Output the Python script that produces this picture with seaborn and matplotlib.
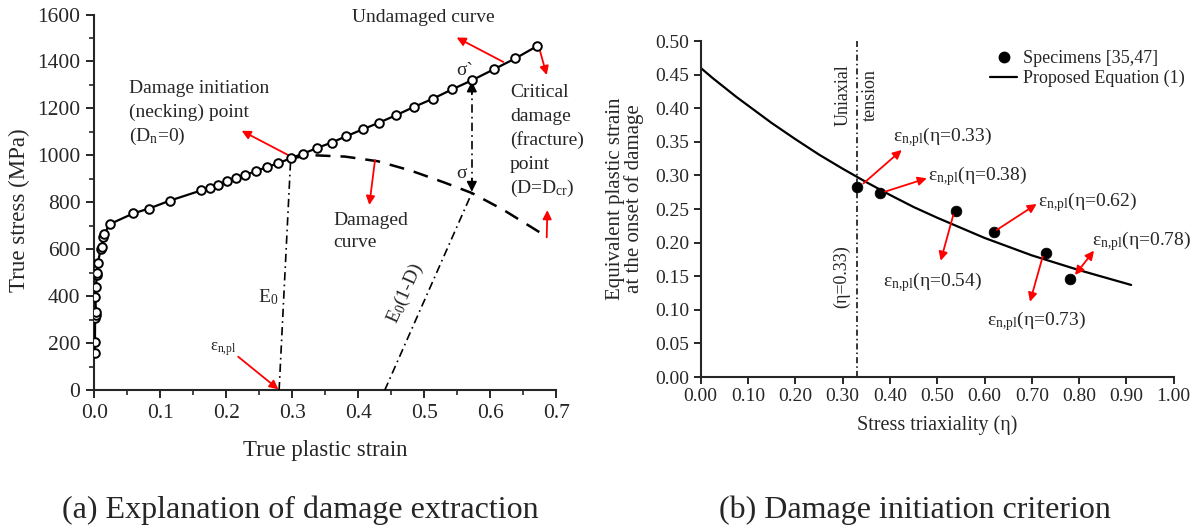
import matplotlib
matplotlib.use("Agg")
import matplotlib.pyplot as plt
from matplotlib.ticker import MultipleLocator, FormatStrFormatter
from matplotlib.lines import Line2D
import seaborn as sns

# ---------------- panel (a): true stress vs. true plastic strain ----------------
undamaged_strain = [0.0010, 0.0010, 0.0012, 0.0020, 0.0026, 0.0015, 0.0026, 0.0036, 0.0044,
                    0.0051, 0.0097, 0.0110, 0.0136, 0.0147, 0.0238, 0.059, 0.083, 0.115,
                    0.162, 0.175, 0.187, 0.2006, 0.214, 0.229, 0.245, 0.261, 0.279, 0.2976,
                    0.3167, 0.338, 0.3597, 0.382, 0.4067, 0.431, 0.457, 0.4849, 0.5127,
                    0.542, 0.5723, 0.6056, 0.638, 0.6712]
undamaged_stress = [160, 207, 306, 322, 334, 396, 438, 491, 500,
                    540, 600, 610, 651, 665, 708, 753, 774, 808,
                    851, 862, 876, 889, 902, 917, 933, 950, 967, 988,
                    1008, 1032, 1055, 1082, 1111, 1139, 1171, 1207, 1241,
                    1281, 1320, 1367, 1413, 1466]

damaged_strain = [0.2976, 0.33, 0.38, 0.43, 0.48, 0.53, 0.572, 0.62, 0.685]
damaged_stress = [988, 1001, 995, 975, 935, 885, 840, 768, 655]

necking_strain, necking_stress = 0.2976, 988      # damage initiation point
eps_n_pl = 0.280                                  # plastic strain at necking
unload_strain, unload_stress = 0.572, 840         # point on the damaged curve
reload_origin = 0.440                             # intercept of the E0(1-D) line
sigma_undamaged = 1320                            # sigma' at the same strain

# ---------------- panel (b): damage initiation criterion ----------------
spec_eta = [0.33, 0.38, 0.54, 0.62, 0.73, 0.78]
spec_eps = [0.282, 0.274, 0.247, 0.216, 0.185, 0.146]
spec_labels = ["0.33", "0.38", "0.54", "0.62", "0.73", "0.78"]

eq_eta = [0.00, 0.025, 0.05, 0.075, 0.10, 0.15, 0.20, 0.25, 0.30, 0.35, 0.40, 0.45,
          0.50, 0.55, 0.60, 0.65, 0.70, 0.75, 0.80, 0.85, 0.91]
eq_eps = [0.460, 0.445, 0.431, 0.417, 0.404, 0.378, 0.354, 0.331, 0.310, 0.290, 0.271, 0.253,
          0.237, 0.222, 0.207, 0.194, 0.181, 0.170, 0.159, 0.149, 0.137]

uniaxial_eta = 0.33

sns.set_style("ticks")
plt.rcParams["font.family"] = ["Liberation Serif", "DejaVu Serif"]
plt.rcParams["mathtext.default"] = "regular"
plt.rcParams["axes.linewidth"] = 1.5

W, H = 1199, 528
fig = plt.figure(figsize=(W / 100, H / 100), dpi=100)
ax1 = fig.add_axes([94.3 / W, 1 - 390.3 / H, 462.0 / W, 375.8 / H])
ax2 = fig.add_axes([700.7 / W, 1 - 377.0 / H, 473.0 / W, 336.0 / H])

RED = "#ff0000"


def red_arrow(ax, tail, tip, both=False):
    ax.annotate("", xy=tip, xytext=tail, annotation_clip=False,
                arrowprops=dict(arrowstyle="<|-|>" if both else "-|>", color=RED,
                                lw=1.3, mutation_scale=13, shrinkA=0, shrinkB=0))


# ---- panel (a) ----
sns.lineplot(x=damaged_strain, y=damaged_stress, ax=ax1, color="black", lw=1.8,
             dashes=False, estimator=None, sort=False, zorder=2)
ax1.lines[-1].set_dashes((6, 4))
sns.lineplot(x=undamaged_strain, y=undamaged_stress, ax=ax1, color="black", lw=1.6,
             estimator=None, sort=False, marker="o", markersize=6.2,
             markerfacecolor="white", markeredgecolor="black", markeredgewidth=1.4,
             zorder=4)

dashdot = (0, (5, 2.5, 1, 2.5))
ax1.plot([eps_n_pl, necking_strain], [0, necking_stress], color="black", lw=1.2,
         linestyle=dashdot, zorder=3)
ax1.plot([reload_origin, unload_strain], [0, unload_stress], color="black", lw=1.2,
         linestyle=dashdot, zorder=3)
ax1.plot([unload_strain, unload_strain], [unload_stress + 30, sigma_undamaged - 30],
         color="black", lw=1.2, linestyle=dashdot, zorder=3)
for tail, tip in [((unload_strain, sigma_undamaged - 60), (unload_strain, sigma_undamaged - 5)),
                  ((unload_strain, unload_stress + 60), (unload_strain, unload_stress + 5))]:
    ax1.annotate("", xy=tip, xytext=tail,
                 arrowprops=dict(arrowstyle="-|>", color="black", lw=1.2,
                                 mutation_scale=15, shrinkA=0, shrinkB=0))

ax1.set_xlim(0, 0.7)
ax1.set_ylim(0, 1600)
ax1.xaxis.set_major_locator(MultipleLocator(0.1))
ax1.xaxis.set_minor_locator(MultipleLocator(0.05))
ax1.xaxis.set_major_formatter(FormatStrFormatter("%.1f"))
ax1.yaxis.set_major_locator(MultipleLocator(200))
ax1.yaxis.set_minor_locator(MultipleLocator(100))
ax1.tick_params(which="major", direction="out", length=6, width=1.4, labelsize=15.5, pad=4)
ax1.tick_params(which="minor", direction="out", length=3.5, width=1.2)
sns.despine(ax=ax1)
ax1.set_xlabel("True plastic strain", fontsize=16.5)
ax1.set_ylabel("True stress (MPa)", fontsize=16.5)
ax1.xaxis.label.set_va("center")
ax1.yaxis.label.set_va("center")
ax1.xaxis.set_label_coords(0.5, -0.159)
ax1.yaxis.set_label_coords(-0.161, 0.48)

fs = 14
for s, y in [("Damage initiation", 1264), ("(necking) point", 1164), ("(D$_{n}$=0)", 1062)]:
    ax1.text(0.052, y, s, fontsize=fs, va="baseline", ha="left")
ax1.text(0.498, 1568, "Undamaged curve", fontsize=fs, va="baseline", ha="center")
for s, y in [("Critical", 1250), ("damage", 1148), ("(fracture)", 1046),
             ("point", 944), ("(D=D$_{cr}$)", 842)]:
    ax1.text(0.630, y, s, fontsize=fs, va="baseline", ha="left")
for s, y in [("Damaged", 703), ("curve", 610)]:
    ax1.text(0.362, y, s, fontsize=fs, va="baseline", ha="left")
ax1.text(0.548, 1342, "σ`", fontsize=fs, va="baseline", ha="left")
ax1.text(0.548, 902, "σ", fontsize=fs, va="baseline", ha="left")
ax1.text(0.2485, 373, "E$_{0}$", fontsize=fs, va="baseline", ha="left")
ax1.text(0.175, 171, "ε$_{n{,}pl}$", fontsize=12, va="baseline", ha="left")
ax1.text(0.4708, 413, "E$_{0}$(1-D)", fontsize=fs, va="center", ha="center",
         rotation=66, rotation_mode="anchor")

red_arrow(ax1, (0.294, 1001), (0.2233, 1105))
red_arrow(ax1, (0.6197, 1398), (0.549, 1502))
red_arrow(ax1, (0.675, 1448), (0.6855, 1342))
red_arrow(ax1, (0.6855, 651), (0.6864, 767))
red_arrow(ax1, (0.4253, 980), (0.4167, 789))
red_arrow(ax1, (0.218, 143), (0.279, 4))

# ---- panel (b) ----
sns.lineplot(x=eq_eta, y=eq_eps, ax=ax2, color="black", lw=1.6, estimator=None,
             sort=False, zorder=2)
sns.scatterplot(x=spec_eta, y=spec_eps, ax=ax2, color="black", s=60, edgecolor="black",
                linewidth=0.5, zorder=3)
ax2.plot([uniaxial_eta, uniaxial_eta], [0, 0.5], color="black", lw=1.1,
         linestyle=(0, (4, 2, 1, 2)), zorder=1)

ax2.set_xlim(0, 1.0)
ax2.set_ylim(0, 0.5)
ax2.xaxis.set_major_locator(MultipleLocator(0.1))
ax2.yaxis.set_major_locator(MultipleLocator(0.05))
ax2.xaxis.set_major_formatter(FormatStrFormatter("%.2f"))
ax2.yaxis.set_major_formatter(FormatStrFormatter("%.2f"))
ax2.tick_params(which="major", direction="out", length=5, width=1.4, labelsize=14, pad=3)
sns.despine(ax=ax2)
ax2.set_xlabel("Stress triaxiality (η)", fontsize=14.5)
ax2.set_ylabel("Equivalent plastic strain\nat the onset of damage", fontsize=15,
               linespacing=1.0)
ax2.xaxis.label.set_va("center")
ax2.yaxis.label.set_va("center")
ax2.xaxis.set_label_coords(0.5, -0.143)
ax2.yaxis.set_label_coords(-0.16, 0.53)

ax2.text(0.3002, 0.419, "Uniaxial", fontsize=13, rotation=90, ha="center", va="center")
ax2.text(0.3594, 0.419, "tension", fontsize=13, rotation=90, ha="center", va="center")
ax2.text(0.298, 0.149, "(η=0.33)", fontsize=13, rotation=90, ha="center", va="center")

label_pos = {"0.33": (0.4072, 0.3512), "0.38": (0.4812, 0.2932), "0.54": (0.386, 0.1354),
             "0.62": (0.7138, 0.2534), "0.73": (0.6046, 0.0774), "0.78": (0.8266, 0.1964)}
arrow_pos = {"0.33": ((0.344, 0.288), (0.425, 0.3378)),
             "0.38": ((0.3897, 0.2758), (0.478, 0.2957)),
             "0.54": ((0.534, 0.241), (0.5074, 0.173)),
             "0.62": ((0.6258, 0.2188), (0.7103, 0.2574)),
             "0.73": ((0.723, 0.179), (0.6962, 0.112)),
             "0.78": ((0.7913, 0.1518), (0.8315, 0.188))}
for lab in spec_labels:
    x, y = label_pos[lab]
    ax2.text(x, y, "ε$_{n{,}pl}$(η=" + lab + ")", fontsize=14, ha="left", va="baseline")
    tail, tip = arrow_pos[lab]
    red_arrow(ax2, tail, tip, both=(lab == "0.78"))

handles = [Line2D([], [], marker="o", color="black", linestyle="none", markersize=7.5),
           Line2D([], [], color="black", lw=1.6)]
fig.legend(handles, ["Specimens [35,47]", "Proposed Equation (1)"], loc="upper left",
           bbox_to_anchor=(990 / W, 1 - 50 / H), frameon=False, fontsize=13,
           handlelength=1.5, handletextpad=0.35, labelspacing=0.15,
           borderpad=0, borderaxespad=0)

fig.text(300 / W, 1 - 510 / H, "(a) Explanation of damage extraction", fontsize=23,
         ha="center", va="center")
fig.text(915 / W, 1 - 510 / H, "(b) Damage initiation criterion", fontsize=23,
         ha="center", va="center")

fig.savefig("out.png", dpi=100)
